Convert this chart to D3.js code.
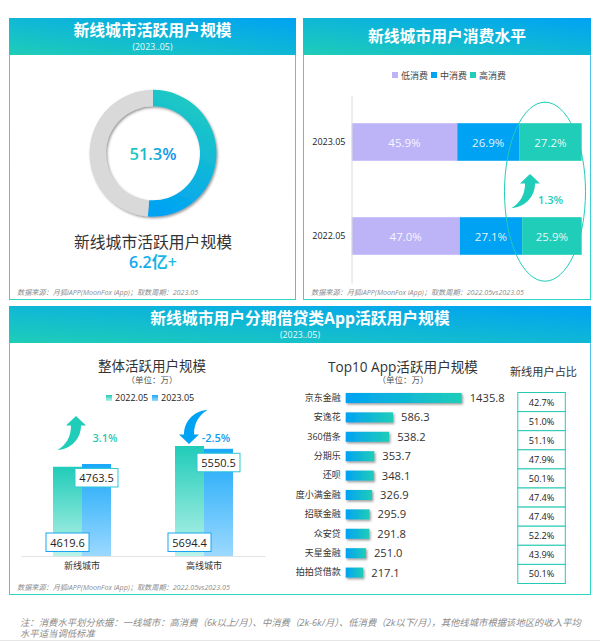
<!DOCTYPE html>
<html>
<head>
<meta charset="utf-8">
<script src="https://cdn.jsdelivr.net/npm/d3@7"></script>
<style>
  body { margin: 0; background: #fff; }
  svg { display: block; }
  text { font-family: "Open Sans", "Noto Sans CJK SC", sans-serif; }
</style>
</head>
<body>
<div id="d3-container"></div>
<script>
const shareValues = [51.3, 48.7];

const stackYears = ["2023.05", "2022.05"];
const stackKeys = ["低消费", "中消费", "高消费"];
const stackLow = [45.9, 47.0];
const stackMid = [26.9, 27.1];
const stackHigh = [27.2, 25.9];
const stackColors = ["#bdb4f7", "#00a2f3", "#1fcdb8"];

const cityNames = ["新线城市", "高线城市"];
const cityYears = ["2022.05", "2023.05"];
const city2022 = [4619.6, 5694.4];
const city2023 = [4763.5, 5550.5];

const appNames = ["京东金融", "安逸花", "360借条", "分期乐", "还呗", "度小满金融", "招联金融", "众安贷", "天星金融", "拍拍贷借款"];
const appUsers = [1435.8, 586.3, 538.2, 353.7, 348.1, 326.9, 295.9, 291.8, 251.0, 217.1];
const appShare = ["42.7%", "51.0%", "51.1%", "47.9%", "50.1%", "47.4%", "47.4%", "52.2%", "43.9%", "50.1%"];

const width = 600;
const height = 643;
const teal = "#1fcdb8";
const blue = "#00a2f3";

const svg = d3.select("#d3-container")
  .append("svg")
  .attr("width", width)
  .attr("height", height)
  .attr("viewBox", [0, 0, width, height]);

const defs = svg.append("defs");

function gradient(id, x1, y1, x2, y2, from, to) {
  const g = defs.append("linearGradient").attr("id", id)
    .attr("x1", x1).attr("y1", y1).attr("x2", x2).attr("y2", y2);
  g.append("stop").attr("offset", "0%").attr("stop-color", from);
  g.append("stop").attr("offset", "100%").attr("stop-color", to);
}
gradient("header", 0, 1, 1, 0, teal, blue);
gradient("border", 0, 0, 0, 1, "#5cc0f5", "#2ed6c4");
gradient("ring", 0.6, 0, 0.3, 1, "#20ccc0", blue);
gradient("textH", 0, 0, 1, 0, "#1fcdb8", "#0a8cf5");
gradient("bigNum", 0, 0, 1, 0, "#0aa5f0", "#1cbde0");
gradient("bar2022", 0, 0, 0, 1, "#20ccb8", "#baf3ea");
gradient("bar2023", 0, 0, 0, 1, "#1aa8f8", "#9bd9ff");
gradient("appBar", 0, 0, 1, 0, blue, teal);

const shadow = defs.append("filter").attr("id", "shadow")
  .attr("x", "-20%").attr("y", "-30%").attr("width", "140%").attr("height", "170%");
shadow.append("feDropShadow")
  .attr("dx", 1.2).attr("dy", 1.5).attr("stdDeviation", 1.2)
  .attr("flood-color", "#555").attr("flood-opacity", 0.6);

function label(parent, x, y, text, size, fill, opts = {}) {
  return parent.append("text")
    .attr("x", x).attr("y", y)
    .attr("text-anchor", opts.anchor || "middle")
    .attr("dominant-baseline", "central")
    .attr("font-size", size)
    .attr("font-weight", opts.weight || "normal")
    .attr("font-style", opts.style || "normal")
    .attr("fill", fill)
    .text(text);
}

function panel(x, y, w, h, title, sub, source) {
  svg.append("rect")
    .attr("x", x + 0.5).attr("y", y + 0.5).attr("width", w - 1).attr("height", h - 1)
    .attr("fill", "#fff").attr("stroke", "url(#border)");
  svg.append("rect")
    .attr("x", x).attr("y", y).attr("width", w).attr("height", 37)
    .attr("fill", "url(#header)");
  const cx = x + w / 2;
  label(svg, cx, sub ? y + 12 : y + 18, title, 15.8, "#fff", { weight: "bold" });
  if (sub) label(svg, cx, y + 28.5, sub, 8.8, "#e8fbff");
  label(svg, x + 8, y + h - 8, source, 7.15, "#8c8c8c", { anchor: "start", style: "italic" });
}

function arrow(x, y, fill, flip) {
  svg.append("path")
    .attr("transform", `translate(${x},${y})` + (flip ? " rotate(180)" : ""))
    .attr("d", "M0,0 L10,9.5 L5,9.5 C5,22 -4,33 -18.5,34 C-10,29 -5,21 -5,9.5 L-10,9.5 Z")
    .attr("fill", fill);
}

panel(9, 18, 287, 282, "新线城市活跃用户规模", "(2023..05)", "数据来源：月狐iAPP(MoonFox iApp)；取数周期：2023.05");
panel(303, 18, 288, 282, "新线城市用户消费水平", null, "数据来源：月狐iAPP(MoonFox iApp)；取数周期：2022.05vs2023.05");
panel(9, 306, 582, 289, "新线城市用户分期借贷类App活跃用户规模", "(2023..05)", "数据来源：月狐iAPP(MoonFox iApp)；取数周期：2022.05vs2023.05");

// donut
const pie = d3.pie().sort(null);
const arc = d3.arc().innerRadius(47).outerRadius(63.5);
const donut = svg.append("g")
  .attr("transform", "translate(153,153.3)")
  .attr("filter", "url(#shadow)");
donut.selectAll("path")
  .data(pie(shareValues))
  .join("path")
    .attr("d", arc)
    .attr("fill", (d, i) => i === 0 ? "url(#ring)" : "#d9d9d9");
label(svg, 153, 153.5, shareValues[0].toFixed(1) + "%", 16.5, "url(#textH)", { weight: 600 });
label(svg, 153, 242, "新线城市活跃用户规模", 15.8, "#333");
label(svg, 153, 262, "6.2亿+", 16, "url(#bigNum)", { weight: 600 });

// stacked bars
const stackRows = stackYears.map((year, i) => ({
  year, [stackKeys[0]]: stackLow[i], [stackKeys[1]]: stackMid[i], [stackKeys[2]]: stackHigh[i]
}));
const stackX = d3.scaleLinear().domain([0, 100]).range([351.7, 581.7]);
const stackY = d3.scaleBand().domain(stackYears).range([95, 283]).paddingInner(0.6).paddingOuter(0.3);
const stackColor = d3.scaleOrdinal().domain(stackKeys).range(stackColors);

const layers = svg.append("g").selectAll("g")
  .data(d3.stack().keys(stackKeys)(stackRows))
  .join("g")
    .attr("fill", d => stackColor(d.key));
layers.selectAll("rect")
  .data(d => d)
  .join("rect")
    .attr("x", d => stackX(d[0]))
    .attr("y", d => stackY(d.data.year))
    .attr("width", d => stackX(d[1]) - stackX(d[0]))
    .attr("height", stackY.bandwidth());
layers.selectAll("text")
  .data(d => d)
  .join("text")
    .attr("x", d => (stackX(d[0]) + stackX(d[1])) / 2)
    .attr("y", d => stackY(d.data.year) + stackY.bandwidth() / 2)
    .attr("text-anchor", "middle")
    .attr("dominant-baseline", "central")
    .attr("font-size", 11.5)
    .attr("fill", "#fff")
    .attr("fill-opacity", 0.9)
    .text(d => (d[1] - d[0]).toFixed(1) + "%");

svg.append("g")
  .attr("transform", "translate(351.5,0)")
  .call(d3.axisLeft(stackY).tickSize(0).tickPadding(6))
  .call(g => g.select(".domain").attr("stroke", "#dcdcdc").attr("stroke-width", 1))
  .call(g => g.selectAll("text").attr("font-size", 9).attr("fill", "#222").attr("font-family", "Open Sans"));

const stackLegendX = [392, 431, 470];
stackKeys.forEach((key, i) => {
  svg.append("rect")
    .attr("x", stackLegendX[i]).attr("y", 72).attr("width", 6).attr("height", 6)
    .attr("fill", stackColor(key));
  label(svg, stackLegendX[i] + 9, 75.5, key, 9, "#444", { anchor: "start" });
});

svg.append("ellipse")
  .attr("cx", 545).attr("cy", 191.7).attr("rx", 40.5).attr("ry", 89.5)
  .attr("fill", "none").attr("stroke", teal).attr("stroke-width", 1);
arrow(530, 174, teal, false);
label(svg, 550.5, 199.5, "1.3%", 11, teal, { weight: 600 });

// overall city bars
const cityX = d3.scaleBand().domain(cityNames).range([21, 265]);
const cityInner = d3.scaleBand().domain(cityYears).range([0, 58]);
const cityY = d3.scaleLinear().domain([0, 5694.4]).range([556, 446]);
const cityOffset = (cityX.bandwidth() - 58) / 2;
const cityRows = cityNames.flatMap((name, i) => [
  { name, year: cityYears[0], value: city2022[i] },
  { name, year: cityYears[1], value: city2023[i] }
]);
const cityLeft = d => cityX(d.name) + cityOffset + cityInner(d.year);

label(svg, 152, 366, "整体活跃用户规模", 13.5, "#333");
label(svg, 152, 379.5, "（单位：万）", 8.5, "#555");

svg.append("g").selectAll("rect")
  .data(cityRows)
  .join("rect")
    .attr("x", cityLeft)
    .attr("y", d => cityY(d.value))
    .attr("width", cityInner.bandwidth())
    .attr("height", d => cityY(0) - cityY(d.value))
    .attr("fill", d => d.year === cityYears[0] ? "url(#bar2022)" : "url(#bar2023)");

svg.append("g")
  .attr("transform", "translate(0,556)")
  .call(d3.axisBottom(cityX).tickSize(0).tickPadding(7))
  .call(g => g.select(".domain").attr("stroke", "#e2e2e2").attr("stroke-width", 1))
  .call(g => g.selectAll("text").attr("font-size", 9).attr("fill", "#333")
    .attr("font-family", "'Open Sans','Noto Sans CJK SC'"));

const boxes = svg.append("g").selectAll("g")
  .data(cityRows)
  .join("g")
    .attr("transform", d => {
      const cx = cityLeft(d) + cityInner.bandwidth() / 2;
      const top = d.year === cityYears[0] ? 533 : cityY(d.value) + 4.5;
      return `translate(${cx},${top})`;
    });
boxes.append("rect")
  .attr("x", -21.5).attr("y", 0).attr("width", 43).attr("height", 18.5)
  .attr("fill", "#fff")
  .attr("stroke", d => d.year === cityYears[0] ? "#18a6f0" : "#2fc7d8")
  .attr("stroke-width", 1);
boxes.append("text")
  .attr("y", 9.5)
  .attr("text-anchor", "middle")
  .attr("dominant-baseline", "central")
  .attr("font-size", 11)
  .attr("fill", "#222")
  .text(d => d.value.toFixed(1));

const cityLegendX = [106, 152];
cityYears.forEach((year, i) => {
  svg.append("rect")
    .attr("x", cityLegendX[i]).attr("y", 395).attr("width", 6).attr("height", 6)
    .attr("fill", i === 0 ? "url(#bar2022)" : "url(#bar2023)");
  label(svg, cityLegendX[i] + 9, 397.5, year, 9, "#222", { anchor: "start" });
});

arrow(76, 416, teal, false);
label(svg, 105, 437.5, "3.1%", 11, teal, { weight: 600 });
arrow(189, 444, blue, true);
label(svg, 216, 437.5, "-2.5%", 11, "#129cf0", { weight: 600 });

// top 10 apps
const appX = d3.scaleLinear().domain([0, 1500]).range([345.7, 466.9]);
const appY = d3.scaleBand().domain(appNames).range([388.3, 582.3]).paddingInner(0.48).paddingOuter(0.24);

label(svg, 403, 366, "Top10 App活跃用户规模", 13.6, "#333");
label(svg, 403, 379.5, "（单位：万）", 8.5, "#555");

svg.append("g").selectAll("rect")
  .data(appUsers)
  .join("rect")
    .attr("x", appX(0))
    .attr("y", (d, i) => appY(appNames[i]))
    .attr("width", d => appX(d) - appX(0))
    .attr("height", appY.bandwidth())
    .attr("fill", "url(#appBar)")
    .attr("filter", "url(#shadow)");

svg.append("g").selectAll("text")
  .data(appUsers)
  .join("text")
    .attr("x", d => appX(d) + 8)
    .attr("y", (d, i) => appY(appNames[i]) + appY.bandwidth() / 2 - 0.5)
    .attr("dominant-baseline", "central")
    .attr("font-size", 11.2)
    .attr("fill", "#333")
    .text(d => d.toFixed(1));

svg.append("g")
  .attr("transform", "translate(345.7,0)")
  .call(d3.axisLeft(appY).tickSize(0).tickPadding(5))
  .call(g => g.select(".domain").remove())
  .call(g => g.selectAll("text").attr("font-size", 9).attr("fill", "#333")
    .attr("font-family", "'Open Sans','Noto Sans CJK SC'"));

// share table
const tableY = d3.scaleBand().domain(appNames).range([392.5, 583.5]);
label(svg, 543.5, 371, "新线用户占比", 11.2, "#333");
const rows = svg.append("g").selectAll("g")
  .data(appShare)
  .join("g")
    .attr("transform", (d, i) => `translate(517.8,${tableY(appNames[i])})`);
rows.append("rect")
  .attr("width", 47.5).attr("height", tableY.bandwidth())
  .attr("fill", "#fff").attr("stroke", "#25c9b6").attr("stroke-width", 1);
rows.append("text")
  .attr("x", 23.75).attr("y", tableY.bandwidth() / 2)
  .attr("text-anchor", "middle")
  .attr("dominant-baseline", "central")
  .attr("font-size", 9.2)
  .attr("fill", "#222")
  .text(d => d);

// footnote
label(svg, 20, 622, "注：消费水平划分依据：一线城市：高消费（6k以上/月）、中消费（2k-6k/月）、低消费（2k以下/月），其他线城市根据该地区的收入平均", 9.35, "#8c8c8c", { anchor: "start", style: "italic" });
label(svg, 20, 633.5, "水平适当调低标准", 9.35, "#8c8c8c", { anchor: "start", style: "italic" });
svg.append("line")
  .attr("x1", 0).attr("x2", width).attr("y1", 640.5).attr("y2", 640.5)
  .attr("stroke", "#e6e6e6");
</script>
</body>
</html>
